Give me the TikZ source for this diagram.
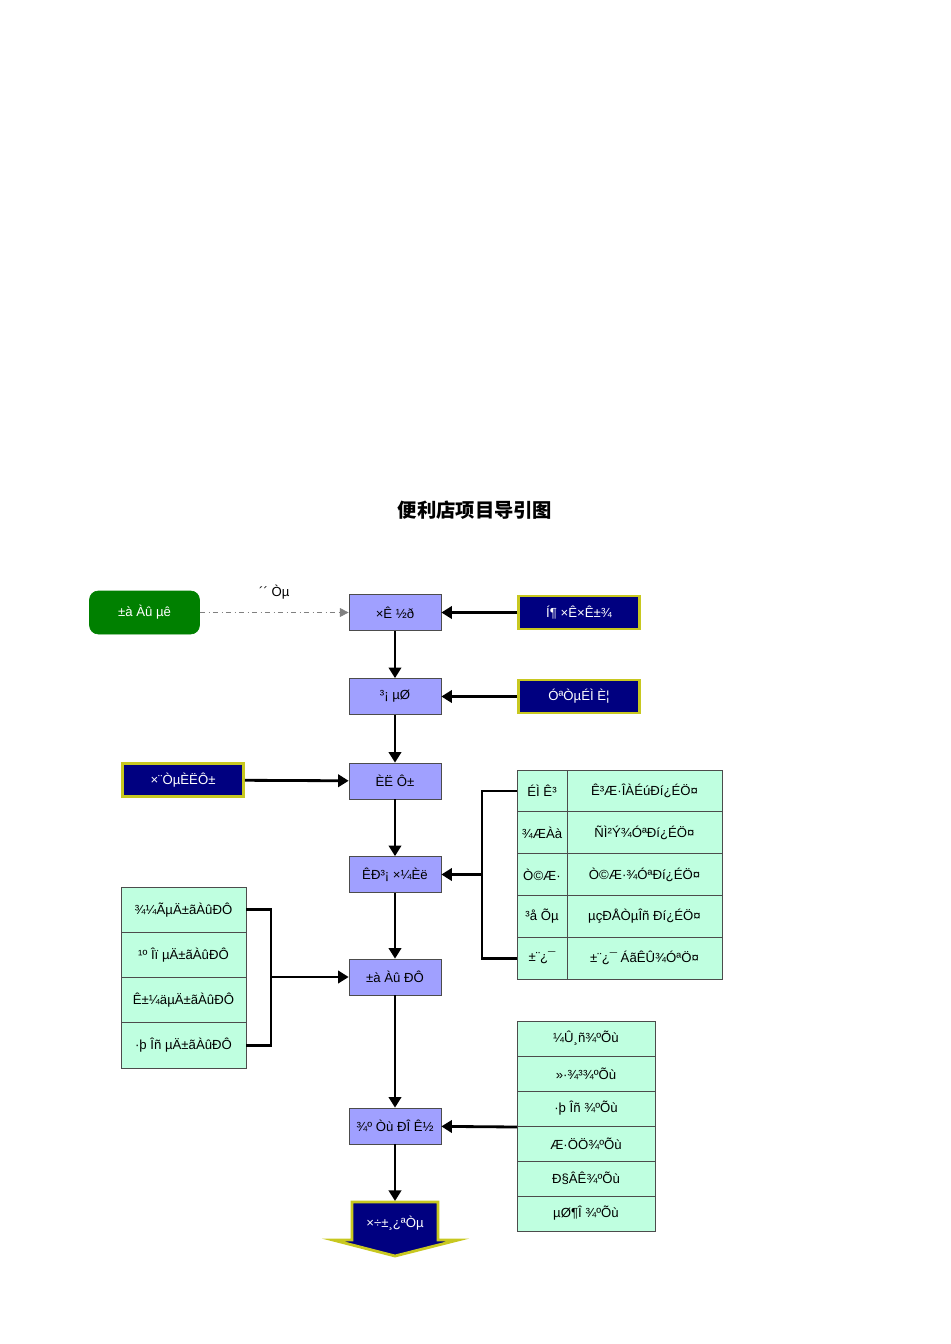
\documentclass[tikz,border=0pt]{standalone}
\usepackage{fontspec}
\setmainfont{Liberation Sans}
\newfontfamily\cjk{Noto Sans CJK SC}
\usetikzlibrary{arrows.meta}
\definecolor{lav}{HTML}{A0A0FF}
\definecolor{mint}{HTML}{BFFFE0}
\definecolor{nav}{HTML}{000080}
\definecolor{ylw}{HTML}{C8C820}
\definecolor{grn}{HTML}{008000}
\begin{document}
\begin{tikzpicture}[x=0.02cm,y=-0.02cm,font=\fontsize{7.5}{9}\selectfont,
 cbox/.style={draw=black!70,fill=lav,minimum width=1.84cm,minimum height=0.72cm,inner sep=0pt},
 nbox/.style={draw=ylw,line width=1.6pt,fill=nav,text=white,minimum width=2.42cm,minimum height=0.66cm,inner sep=0pt},
 cell/.style={draw=black!70,fill=mint,inner sep=0pt},
 arr/.style={line width=1.6pt,-{Triangle[length=6pt,width=7pt]}},
 ln/.style={line width=1.6pt}]
\useasboundingbox (0,0) rectangle (950,1344);
\node[font=\cjk\bfseries\fontsize{11}{13}\selectfont] (title) at (475,510) {便利店项目导引图};
% center boxes
\node[cbox] (c1) at (395,612.5) {×Ê ½ð};
\node[cbox] (c2) at (395,696.5) {³¡ µØ};
\node[cbox] (c3) at (395,781) {ÈË Ô±};
\node[cbox] (c4) at (395,874.5) {ÊÐ³¡ ×¼Èë};
\node[cbox] (c5) at (395,977) {±à Àû ÐÔ};
\node[cbox] (c6) at (395,1126) {¾º Òù ÐÎ Ê½};
% green
\node[draw=grn,fill=grn,rounded corners=5pt,text=white,minimum width=2.2cm,minimum height=0.86cm,inner sep=0pt] (g) at (144.5,612.5) {±à Àû µê};
\draw[gray,dash dot,-{Triangle[length=5pt,width=5pt]}] (g) -- node[above=4pt,text=black]{´´ Òµ} (c1);
% navy
\node[nbox] (n1) at (579,612.5) {Í¶ ×Ê×Ê±¾};
\node[nbox] (n2) at (579,696.5) {ÓªÒµÉÌ È¦};
\node[nbox] (n3) at (183,780) {×¨ÒµÈËÔ±};
\draw[arr] (n1) -- (c1);
\draw[arr] (n2) -- (c2);
\draw[arr] (n3) -- (c3);
\draw[arr] (c1) -- (c2);
\draw[arr] (c2) -- (c3);
\draw[arr] (c3) -- (c4);
\draw[arr] (c4) -- (c5);
\draw[arr] (c5) -- (c6);
% right table
\foreach \i/\a/\b in {0/ÉÌ Ê³/Ê³Æ·ÎÀÉúÐí¿ÉÖ¤,1/¾ÆÀà/ÑÌ²Ý¾­ÓªÐí¿ÉÖ¤,2/Ò©Æ·/Ò©Æ·¾­ÓªÐí¿ÉÖ¤,3/³å Õµ/µçÐÅÒµÎñ Ðí¿ÉÖ¤,4/±¨¿¯/±¨¿¯ ÁãÊÛ¾­ÓªÖ¤}{
 \node[cell,minimum width=1cm,minimum height=0.836cm] (ra\i) at (542,{790.9+41.8*\i}) {\a};
 \node[cell,minimum width=3.1cm,minimum height=0.836cm] (rb\i) at (644.5,{790.9+41.8*\i}) {\b};
}
\coordinate (rj) at (482,874.5);
\draw[ln] (ra0.west) -| (rj) |- (ra4.west);
\draw[arr] (rj) -- (c4);
% left table
\foreach \i/\a in {0/¾­¼ÃµÄ±ãÀûÐÔ,1/¹º Îï µÄ±ãÀûÐÔ,2/Ê±¼äµÄ±ãÀûÐÔ,3/·þ Îñ µÄ±ãÀûÐÔ}{
 \node[cell,minimum width=2.5cm,minimum height=0.905cm] (l\i) at (183.5,{909.6+45.25*\i}) {\a};
}
\coordinate (lj) at (271,977);
\draw[ln] (l0.east) -| (lj) |- (l3.east);
\draw[arr] (lj) -- (c5);
% bottom right table
\foreach \i/\a in {0/¼Û¸ñ¾ºÕù,1/»·¾³¾ºÕù,2/·þ Îñ ¾ºÕù,3/Æ·ÖÖ¾ºÕù,4/Ð§ÂÊ¾ºÕù,5/µØ¶Î ¾ºÕù}{
 \node[cell,minimum width=2.76cm,minimum height=0.7cm] (b\i) at (586,{1038.5+35*\i}) {\a};
}
\coordinate (bj) at (517,1127);
\draw[arr] (bj) -- (c6);
% bottom arrow
\draw[draw=ylw,line width=1.6pt,fill=nav] (352,1202) -- (438,1202) -- (438,1240) -- (458,1240) -- (395,1256) -- (333,1240) -- (352,1240) -- cycle;
\node[text=white] (end) at (395,1223) {×÷±¸¿ªÒµ};
\draw[arr] (c6) -- (395,1201);
\end{tikzpicture}
\end{document}
